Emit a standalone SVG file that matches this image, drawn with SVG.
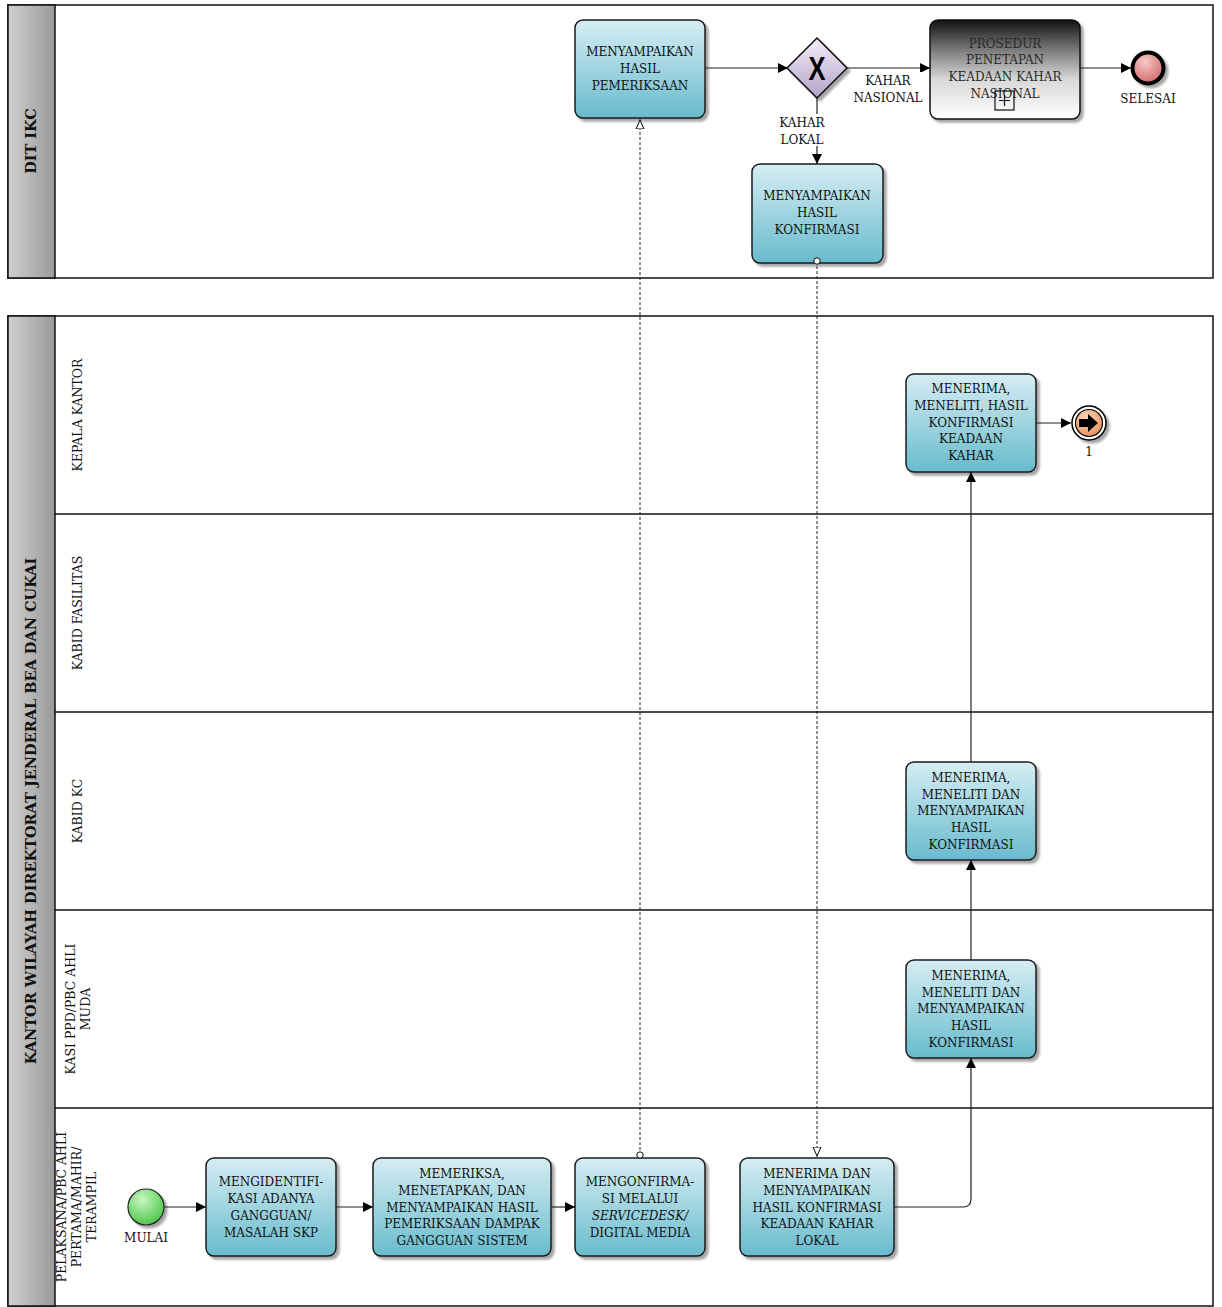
<svg xmlns="http://www.w3.org/2000/svg" width="1222" height="1307" viewBox="0 0 1222 1307">
<defs>
<linearGradient id="gTask" x1="0" y1="0" x2="0" y2="1"><stop offset="0" stop-color="#d6edf3"/><stop offset="1" stop-color="#68bbcd"/></linearGradient>
<linearGradient id="gHead" x1="0" y1="0" x2="1" y2="0"><stop offset="0" stop-color="#cfcfcf"/><stop offset="1" stop-color="#9a9a9a"/></linearGradient>
<linearGradient id="gSub" x1="0" y1="0" x2="0" y2="1"><stop offset="0" stop-color="#111"/><stop offset="0.3" stop-color="#7a7a7a"/><stop offset="0.6" stop-color="#d8d8d8"/><stop offset="1" stop-color="#fff"/></linearGradient>
<linearGradient id="gGate" x1="0" y1="0" x2="0" y2="1"><stop offset="0" stop-color="#f2eef7"/><stop offset="1" stop-color="#b3a2c9"/></linearGradient>
<radialGradient id="gStart" cx="0.4" cy="0.3" r="0.8"><stop offset="0" stop-color="#c8f7c0"/><stop offset="1" stop-color="#3fbf3f"/></radialGradient>
<radialGradient id="gEnd" cx="0.4" cy="0.3" r="0.8"><stop offset="0" stop-color="#f7c8c8"/><stop offset="1" stop-color="#cf5e5e"/></radialGradient>
<radialGradient id="gLink" cx="0.4" cy="0.3" r="0.8"><stop offset="0" stop-color="#fbd6b8"/><stop offset="1" stop-color="#e98c55"/></radialGradient>
<marker id="aF" viewBox="0 0 10 10" refX="10" refY="5" markerWidth="10" markerHeight="10" markerUnits="userSpaceOnUse" orient="auto"><path d="M0,0 L10,5 L0,10 z" fill="#000"/></marker>
<marker id="aO" viewBox="0 0 10 10" refX="10" refY="5" markerWidth="10" markerHeight="10" markerUnits="userSpaceOnUse" orient="auto"><path d="M0,1 L9,5 L0,9 z" fill="#fff" stroke="#000" stroke-width="1"/></marker>
<marker id="cS" viewBox="0 0 10 10" refX="5" refY="5" markerWidth="8" markerHeight="8" markerUnits="userSpaceOnUse" orient="auto"><circle cx="5" cy="5" r="4" fill="#fff" stroke="#000" stroke-width="1.2"/></marker>
<filter id="sh" x="-10%" y="-10%" width="130%" height="130%"><feDropShadow dx="3" dy="3" stdDeviation="1" flood-color="#000" flood-opacity="0.35"/></filter>
</defs>
<style>
text{font-family:"DejaVu Serif","Liberation Serif",serif;font-size:12px;fill:#111}
.pool{font-weight:bold;font-size:14.5px}
.ln{font-size:12.5px}
.task{fill:url(#gTask);stroke:#1b1b1b;stroke-width:1.5;filter:url(#sh)}
.line{fill:none;stroke:#222;stroke-width:1.2}
.dash{fill:none;stroke:#222;stroke-width:1;stroke-dasharray:3,2}
.lane{fill:none;stroke:#111;stroke-width:1.5}
.c{text-anchor:middle}
</style>

<g id="pools">
<rect x="8" y="5" width="1205" height="273" fill="#fff" stroke="#111" stroke-width="1.5"/>
<rect x="8" y="5" width="47" height="273" fill="url(#gHead)" stroke="#111" stroke-width="1.5"/>
<text class="pool c" transform="translate(36,141) rotate(-90)">DIT IKC</text>
<rect x="8" y="316" width="1205" height="990" fill="#fff" stroke="#111" stroke-width="1.5"/>
<rect x="8" y="316" width="47" height="990" fill="url(#gHead)" stroke="#111" stroke-width="1.5"/>
<text class="pool c" transform="translate(36,811) rotate(-90)">KANTOR WILAYAH DIREKTORAT JENDERAL BEA DAN CUKAI</text>
<line class="lane" x1="55" y1="514" x2="1213" y2="514"/>
<line class="lane" x1="55" y1="712" x2="1213" y2="712"/>
<line class="lane" x1="55" y1="910" x2="1213" y2="910"/>
<line class="lane" x1="55" y1="1108" x2="1213" y2="1108"/>
<text class="c ln" transform="translate(82,415) rotate(-90)">KEPALA KANTOR</text>
<text class="c ln" transform="translate(82,613) rotate(-90)">KABID FASILITAS</text>
<text class="c ln" transform="translate(82,811) rotate(-90)">KABID KC</text>
<text class="c ln" transform="translate(75,1009) rotate(-90)"><tspan x="0" dy="0">KASI PPD/PBC AHLI</tspan><tspan x="0" dy="15">MUDA</tspan></text>
<text class="c ln" transform="translate(66,1207) rotate(-90)"><tspan x="0" dy="0">PELAKSANA/PBC AHLI</tspan><tspan x="0" dy="15">PERTAMA/MAHIR/</tspan><tspan x="0" dy="15">TERAMPIL</tspan></text>
</g>

<g id="n_pemeriksaan"><rect class="task" x="575" y="20" width="130" height="98" rx="8"/>
<text class="c" x="640" y="56">MENYAMPAIKAN</text><text class="c" x="640" y="73">HASIL</text><text class="c" x="640" y="90">PEMERIKSAAN</text></g>

<g id="n_gateway"><path d="M817,38 L847,68 L817,98 L787,68 z" fill="url(#gGate)" stroke="#111" stroke-width="1.5" filter="url(#sh)"/>
<text class="c" x="817" y="80" style="font-family:'Liberation Sans',Arial,sans-serif;font-size:34px;font-weight:bold;fill:#000" transform="translate(817,68) scale(0.75,1) translate(-817,-68)">X</text></g>

<g id="n_prosedur"><rect x="930" y="20" width="150" height="99" rx="8" fill="url(#gSub)" stroke="#111" stroke-width="1.5" filter="url(#sh)"/>
<text class="c" x="1005" y="48" style="fill:#2a2a2a">PROSEDUR</text><text class="c" x="1005" y="64" style="fill:#2a2a2a">PENETAPAN</text><text class="c" x="1005" y="81" style="fill:#2a2a2a">KEADAAN KAHAR</text><text class="c" x="1005" y="98" style="fill:#2a2a2a">NASIONAL</text>
<rect x="995" y="91" width="19" height="19" fill="none" stroke="#111" stroke-width="1.2"/>
<path d="M1004.5,95 V106 M999,100.5 H1010" stroke="#111" stroke-width="1.2"/></g>

<g id="n_selesai"><circle cx="1148" cy="68" r="15.5" fill="url(#gEnd)" stroke="#000" stroke-width="4" filter="url(#sh)"/>
<text class="c" x="1148" y="103">SELESAI</text></g>

<g id="n_konfirmasi"><rect class="task" x="752" y="164" width="131" height="99" rx="8"/>
<text class="c" x="817" y="200">MENYAMPAIKAN</text><text class="c" x="817" y="217">HASIL</text><text class="c" x="817" y="234">KONFIRMASI</text></g>

<g id="n_kepala"><rect class="task" x="906" y="374" width="130" height="98" rx="8"/>
<text class="c" x="971" y="393">MENERIMA,</text><text class="c" x="971" y="410">MENELITI, HASIL</text><text class="c" x="971" y="427">KONFIRMASI</text><text class="c" x="971" y="443">KEADAAN</text><text class="c" x="971" y="460">KAHAR</text></g>

<g id="n_link"><circle cx="1089" cy="423" r="17" fill="#fff" stroke="#000" stroke-width="1.5" filter="url(#sh)"/>
<circle cx="1089" cy="423" r="13.5" fill="url(#gLink)" stroke="#000" stroke-width="1.2"/>
<path d="M1079,419 H1088 V414 L1098,423 L1088,432 V427 H1079 z" fill="#000"/>
<text class="c" x="1089" y="456">1</text></g>

<g id="n_kabidkc"><rect class="task" x="906" y="762" width="130" height="98" rx="8"/>
<text class="c" x="971" y="782">MENERIMA,</text><text class="c" x="971" y="799">MENELITI DAN</text><text class="c" x="971" y="815">MENYAMPAIKAN</text><text class="c" x="971" y="832">HASIL</text><text class="c" x="971" y="849">KONFIRMASI</text></g>

<g id="n_kasi"><rect class="task" x="906" y="960" width="130" height="98" rx="8"/>
<text class="c" x="971" y="980">MENERIMA,</text><text class="c" x="971" y="997">MENELITI DAN</text><text class="c" x="971" y="1013">MENYAMPAIKAN</text><text class="c" x="971" y="1030">HASIL</text><text class="c" x="971" y="1047">KONFIRMASI</text></g>

<g id="n_mulai"><circle cx="146" cy="1207" r="18" fill="url(#gStart)" stroke="#222" stroke-width="1.2" filter="url(#sh)"/>
<text class="c" x="146" y="1242">MULAI</text></g>

<g id="n_identifikasi"><rect class="task" x="206" y="1158" width="130" height="98" rx="8"/>
<text class="c" x="271" y="1186">MENGIDENTIFI-</text><text class="c" x="271" y="1203">KASI ADANYA</text><text class="c" x="271" y="1220">GANGGUAN/</text><text class="c" x="271" y="1237">MASALAH SKP</text></g>

<g id="n_memeriksa"><rect class="task" x="373" y="1158" width="178" height="98" rx="8"/>
<text class="c" x="462" y="1178">MEMERIKSA,</text><text class="c" x="462" y="1195">MENETAPKAN, DAN</text><text class="c" x="462" y="1212">MENYAMPAIKAN HASIL</text><text class="c" x="462" y="1228">PEMERIKSAAN DAMPAK</text><text class="c" x="462" y="1245">GANGGUAN SISTEM</text></g>

<g id="n_mengonfirmasi"><rect class="task" x="575" y="1158" width="130" height="98" rx="8"/>
<text class="c" x="640" y="1186">MENGONFIRMA-</text><text class="c" x="640" y="1203">SI MELALUI</text><text class="c" x="640" y="1220" font-style="italic">SERVICEDESK/</text><text class="c" x="640" y="1237">DIGITAL MEDIA</text></g>

<g id="n_menerima"><rect class="task" x="740" y="1158" width="154" height="98" rx="8"/>
<text class="c" x="817" y="1178">MENERIMA DAN</text><text class="c" x="817" y="1195">MENYAMPAIKAN</text><text class="c" x="817" y="1212">HASIL KONFIRMASI</text><text class="c" x="817" y="1228">KEADAAN KAHAR</text><text class="c" x="817" y="1245">LOKAL</text></g>

<g id="connectors">
<line class="line" x1="164" y1="1207" x2="206" y2="1207" marker-end="url(#aF)"/>
<line class="line" x1="336" y1="1207" x2="373" y2="1207" marker-end="url(#aF)"/>
<line class="line" x1="551" y1="1207" x2="575" y2="1207" marker-end="url(#aF)"/>
<line class="dash" x1="640" y1="1155" x2="640" y2="119" marker-start="url(#cS)" marker-end="url(#aO)"/>
<line class="line" x1="705" y1="68" x2="788" y2="68" marker-end="url(#aF)"/>
<line class="line" x1="847" y1="68" x2="930" y2="68" marker-end="url(#aF)"/>
<line class="line" x1="817" y1="98" x2="817" y2="164" marker-end="url(#aF)"/>
<line class="line" x1="1080" y1="68" x2="1131" y2="68" marker-end="url(#aF)"/>
<line class="dash" x1="817" y1="261" x2="817" y2="1157" marker-start="url(#cS)" marker-end="url(#aO)"/>
<path class="line" d="M894,1207 L963,1207 Q971,1207 971,1199 L971,1058" marker-end="url(#aF)"/>
<line class="line" x1="971" y1="960" x2="971" y2="860" marker-end="url(#aF)"/>
<line class="line" x1="971" y1="762" x2="971" y2="472" marker-end="url(#aF)"/>
<line class="line" x1="1036" y1="423" x2="1071" y2="423" marker-end="url(#aF)"/>
<rect x="853" y="72" width="70" height="32" fill="#fff"/>
<text class="c" x="888" y="85">KAHAR</text>
<text class="c" x="888" y="102">NASIONAL</text>
<rect x="776" y="114" width="52" height="32" fill="#fff"/>
<text class="c" x="802" y="127">KAHAR</text>
<text class="c" x="802" y="144">LOKAL</text>
</g>
</svg>
